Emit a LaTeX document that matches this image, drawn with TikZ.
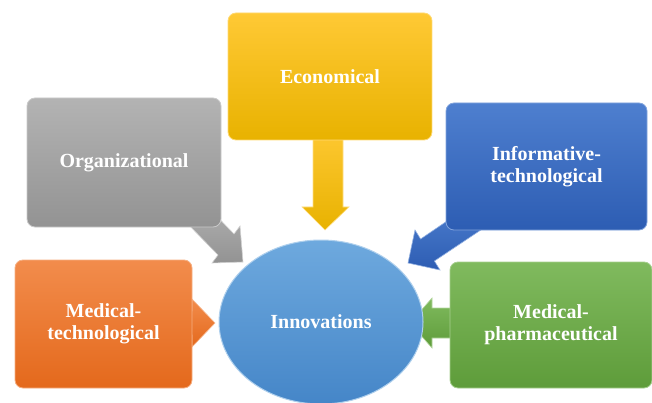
\documentclass[tikz,border=0pt]{standalone}
\usepackage{fontspec}
\setmainfont{Liberation Serif}
\usetikzlibrary{shapes.geometric}
\definecolor{grayT}{HTML}{B3B3B3}\definecolor{grayB}{HTML}{939393}
\definecolor{yelT}{HTML}{FFC935}\definecolor{yelB}{HTML}{E8B200}
\definecolor{bluT}{HTML}{4E7FCF}\definecolor{bluB}{HTML}{2D5DB3}
\definecolor{oraT}{HTML}{F28C4C}\definecolor{oraB}{HTML}{E4691C}
\definecolor{greT}{HTML}{80BA5E}\definecolor{greB}{HTML}{5E9C3A}
\definecolor{ellT}{HTML}{6EA9DE}\definecolor{ellB}{HTML}{4586C8}
\tikzset{
  box/.style={rectangle, rounded corners=8pt, minimum width=#1, minimum height=128pt,
    text=white, font=\fontsize{20}{22}\selectfont\bfseries, align=center, line width=0.8pt},
  callout/.style={line width=0.6pt, line join=miter},
}
\begin{document}
\begin{tikzpicture}[x=1pt,y=-1pt]
\useasboundingbox (0,0) rectangle (652,403);
\clip (0,0) rectangle (652,403);
% arrows (behind boxes)
\coordinate (gT) at (243,262);
\draw[callout, draw=grayT!60!white, top color=grayT, bottom color=grayB]
  (199,198) -- (234,234) -- (240,226) -- (gT) -- (212,263) -- (218,255) -- (183,219) -- cycle;
\coordinate (yT) at (325,230);
\draw[callout, draw=yelT!60!white, top color=yelT, bottom color=yelB]
  (313,125) -- (313,207) -- (302,207) -- (yT) -- (349,207) -- (343,207) -- (343,125) -- cycle;
\coordinate (bT) at (408,263);
\draw[callout, draw=bluT!60!white, top color=bluT, bottom color=bluB]
  (478,200) -- (420.6,239) -- (415,230) -- (bT) -- (440,270) -- (434.4,261) -- (492,222.5) -- cycle;
\coordinate (oT) at (215,323);
\draw[callout, draw=oraT!60!white, top color=oraT, bottom color=oraB]
  (180,311) -- (192,311) -- (192,299) -- (oT) -- (192,347) -- (192,335) -- (180,335) -- cycle;
\coordinate (nT) at (410,323);
\draw[callout, draw=greT!60!white, top color=greT, bottom color=greB]
  (462,308) -- (432,308) -- (432,298) -- (nT) -- (432,348) -- (432,338) -- (462,338) -- cycle;
% boxes
\node[box=194pt, minimum height=129pt, draw=grayT!70!white, top color=grayT, bottom color=grayB] (org) at (124,162.5) {Organizational};
\node[box=204pt, minimum height=127pt, draw=yelT!70!white, top color=yelT, bottom color=yelB] (eco) at (330,76.5) {Economical};
\node[box=201pt, minimum height=127pt, draw=bluT!70!white, top color=bluT, bottom color=bluB] (inf) at (546.5,166.5) {Informative-\\technological};
\node[box=177pt, minimum height=128pt, draw=oraT!70!white, top color=oraT, bottom color=oraB] (medt) at (103.5,324) {Medical-\\technological};
\node[box=202pt, minimum height=126pt, draw=greT!70!white, top color=greT, bottom color=greB] (medp) at (551,325) {Medical-\\pharmaceutical};
% ellipse
\node[ellipse, minimum width=204pt, minimum height=164pt, draw=ellT!55!white, line width=1pt,
  top color=ellT, bottom color=ellB, text=white, font=\fontsize{20}{22}\selectfont\bfseries] (inn) at (321,322) {Innovations};
\end{tikzpicture}
\end{document}
